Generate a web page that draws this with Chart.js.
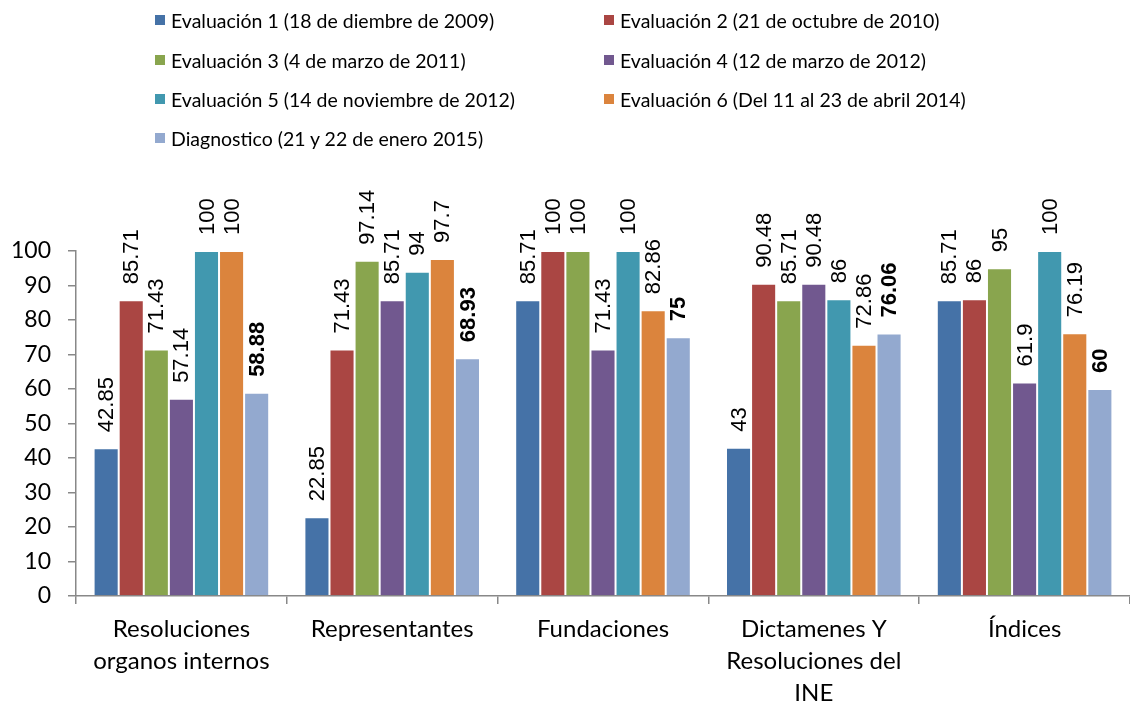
<!DOCTYPE html>
<html>
<head>
<meta charset="utf-8">
<script src="https://cdn.jsdelivr.net/npm/chart.js@4/dist/chart.umd.min.js"></script>
<style>
  html, body { margin: 0; padding: 0; background: #fff; }
  #wrap { position: relative; width: 1130px; height: 705px; }
  #legend { position: absolute; left: 155px; top: 8px; width: 950px; font-family: Lato, "Liberation Sans", sans-serif; font-size: 19.5px; color: #000; }
  .li { position: absolute; white-space: nowrap; display: flex; align-items: center; height: 24px; }
  .li span.box { display: inline-block; width: 10px; height: 10px; margin-right: 6px; }
</style>
</head>
<body>
<div id="wrap">
  <canvas id="c" width="1130" height="705"></canvas>
  <div id="legend"></div>
</div>
<script>
const categories = [
  ['Resoluciones', 'organos internos'],
  ['Representantes'],
  ['Fundaciones'],
  ['Dictamenes Y', 'Resoluciones del', 'INE'],
  ['Índices']
];
const seriesNames = [
  'Evaluación 1 (18 de diembre de 2009)',
  'Evaluación 2 (21 de octubre de 2010)',
  'Evaluación 3 (4 de marzo de 2011)',
  'Evaluación 4 (12 de marzo de 2012)',
  'Evaluación 5 (14 de noviembre de 2012)',
  'Evaluación 6 (Del 11 al 23 de abril 2014)',
  'Diagnostico (21 y 22 de enero 2015)'
];
const eval1 = [42.85, 22.85, 85.71, 43, 85.71];
const eval2 = [85.71, 71.43, 100, 90.48, 86];
const eval3 = [71.43, 97.14, 100, 85.71, 95];
const eval4 = [57.14, 85.71, 71.43, 90.48, 61.9];
const eval5 = [100, 94, 100, 86, 100];
const eval6 = [100, 97.7, 82.86, 72.86, 76.19];
const diagnostico = [58.88, 68.93, 75, 76.06, 60];
const yTicks = [0, 10, 20, 30, 40, 50, 60, 70, 80, 90, 100];

const seriesValues = [eval1, eval2, eval3, eval4, eval5, eval6, diagnostico];
const colors = ['#4572A7', '#AA4643', '#89A54E', '#71588F', '#4198AF', '#DB843D', '#93A9CF'];
const boldLabels = [false, false, false, false, false, false, true];

const datasets = seriesValues.map((vals, i) => ({
  label: seriesNames[i],
  data: vals,
  backgroundColor: colors[i],
  borderColor: 'rgba(255,255,255,0.45)',
  borderWidth: 1,
  barPercentage: 1.0,
  categoryPercentage: 0.833
}));

// HTML legend (2 columns)
const legendEl = document.getElementById('legend');
const rowTops = [0, 40, 79, 118];
seriesNames.forEach((name, i) => {
  const d = document.createElement('div');
  d.className = 'li';
  d.style.left = (i % 2 === 0 ? 0 : 449) + 'px';
  d.style.top = rowTops[Math.floor(i / 2)] + 'px';
  d.innerHTML = '<span class="box" style="background:' + colors[i] + '"></span>';
  d.appendChild(document.createTextNode(name));
  legendEl.appendChild(d);
});

const labelPlugin = {
  id: 'vlabels',
  afterDatasetsDraw(chart) {
    const ctx = chart.ctx;
    chart.data.datasets.forEach((ds, di) => {
      const meta = chart.getDatasetMeta(di);
      meta.data.forEach((el, i) => {
        const v = ds.data[i];
        ctx.save();
        ctx.translate(el.x, el.y - 16);
        ctx.rotate(-Math.PI / 2);
        ctx.font = (boldLabels[di] ? 'bold ' : '') + '22px "Liberation Sans", Arial, sans-serif';
        ctx.fillStyle = '#000';
        ctx.textAlign = 'left';
        ctx.textBaseline = 'middle';
        ctx.fillText(String(v), 0, 1);
        ctx.restore();
      });
    });
  }
};

new Chart(document.getElementById('c'), {
  type: 'bar',
  data: { labels: categories, datasets: datasets },
  options: {
    responsive: false,
    animation: false,
    layout: { padding: { top: 251, right: 0, left: 0, bottom: 0 } },
    plugins: { legend: { display: false }, tooltip: { enabled: false } },
    scales: {
      x: {
        afterFit(scale) { scale.height = 109; },
        grid: { display: true, offset: true, drawOnChartArea: false, drawTicks: true, tickLength: 8, color: '#888', lineWidth: 1.5 },
        border: { display: true, color: '#888', width: 1.5 },
        ticks: {
          color: '#000',
          font: { family: 'Lato, "Liberation Sans", sans-serif', size: 24, lineHeight: 1.34 },
          padding: 9,
          maxRotation: 0,
          autoSkip: false
        }
      },
      y: {
        min: 0,
        max: 100,
        afterFit(scale) { scale.width = 76; },
        afterBuildTicks(scale) { scale.ticks = yTicks.map(v => ({ value: v })); },
        grid: { display: true, drawOnChartArea: false, drawTicks: true, tickLength: 8, color: '#888', lineWidth: 1.5 },
        border: { display: true, color: '#888', width: 1.5 },
        ticks: {
          color: '#000',
          font: { family: 'Lato, "Liberation Sans", sans-serif', size: 23 },
          padding: 17
        }
      }
    }
  },
  plugins: [labelPlugin]
});
</script>
</body>
</html>
